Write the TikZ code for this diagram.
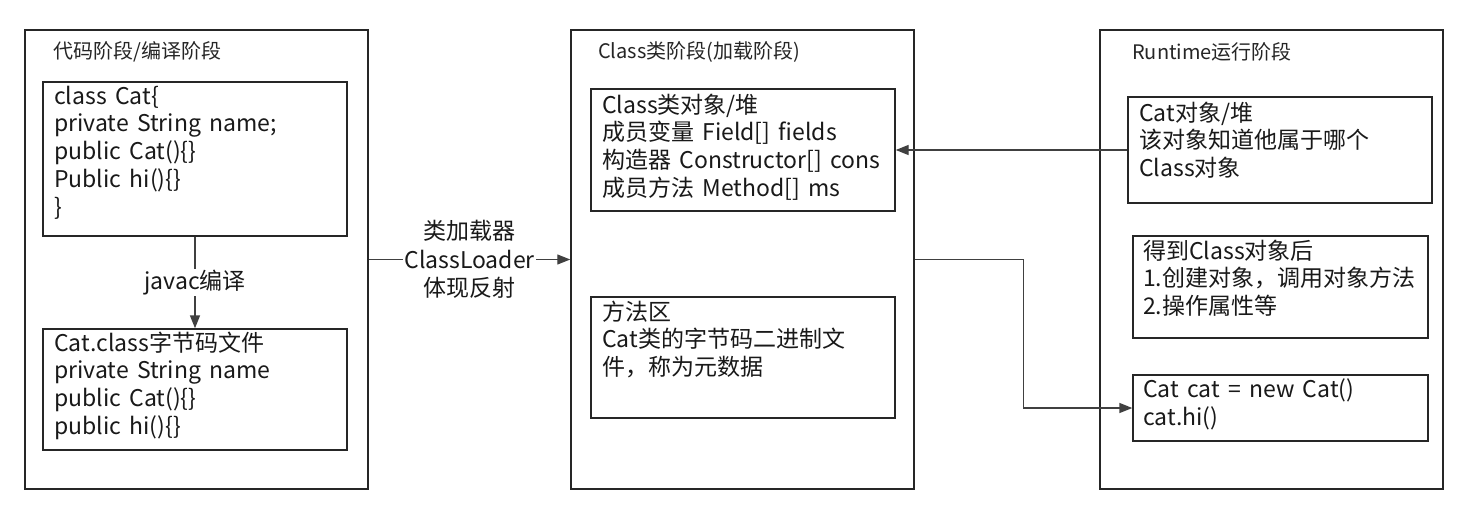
\documentclass[tikz,border=0pt]{standalone}
\usepackage{fontspec}
\setmainfont{Noto Sans CJK SC}[WordSpace=1.6]
\usetikzlibrary{arrows.meta,fit}
\begin{document}
\begin{tikzpicture}[x=1pt,y=-1pt,
  frame/.style={draw=black!85, line width=1.5pt, inner sep=0pt},
  box/.style={draw=black!85, line width=1.4pt, inner sep=0pt},
  title/.style={anchor=west, inner sep=0pt, font=\fontsize{20}{24}\selectfont, text=black!85},
  body/.style={anchor=north west, inner sep=0pt, align=left, font=\fontsize{23}{27.8}\selectfont, text=black!90},
  conn/.style={draw=black!75, line width=1.4pt, -{Triangle[length=13pt,width=10pt]}},
  lbl/.style={fill=white, inner sep=1pt, align=center, font=\fontsize{23}{28.5}\selectfont, text=black!90}
]
\useasboundingbox (0,0) rectangle (1468,514);
\fill[white] (0,0) rectangle (1468,514);

% stage frames
\node[frame, fit={(25,30) (368,489)}] (s1) {};
\node[frame, fit={(571,30) (914,489)}] (s2) {};
\node[frame, fit={(1100,30) (1443,489)}] (s3) {};

\node[title] (t1) at (53,52) {代码阶段/编译阶段};
\node[title] (t2) at (598,52) {Class类阶段(加载阶段)};
\node[title] (t3) at (1132,52) {Runtime运行阶段};

% inner boxes
\node[box, fit={(43,82) (347,236)}] (A) {};
\node[box, fit={(43,329) (347,450)}] (B) {};
\node[box, fit={(591,89) (895,211)}] (C) {};
\node[box, fit={(591,297) (895,418)}] (D) {};
\node[box, fit={(1128,97) (1432,203)}] (E) {};
\node[box, fit={(1133,236) (1428,338)}] (F) {};
\node[box, fit={(1133,375) (1428,441)}] (G) {};

% texts
\node[body] (Atxt) at (54,85.5) {class Cat\{\\private String name;\\public Cat()\{\}\\Public hi()\{\}\\\}};
\node[body] (Btxt) at (54,331.5) {Cat.class字节码文件\\private String name\\public Cat()\{\}\\public hi()\{\}};
\node[body] (Ctxt) at (602,93.5) {Class类对象/堆\\成员变量 Field[] fields\\构造器 Constructor[] cons\\成员方法 Method[] ms};
\node[body] (Dtxt) at (602,300.5) {方法区\\Cat类的字节码二进制文\\件，称为元数据};
\node[body] (Etxt) at (1139,101.5) {Cat对象/堆\\该对象知道他属于哪个\\Class对象};
\node[body] (Ftxt) at (1143,239.5) {得到Class对象后\\1.创建对象，调用对象方法\\2.操作属性等};
\node[body] (Gtxt) at (1143,378.5) {Cat cat = new Cat()\\cat.hi()};

% connectors
\draw[conn] (A.south) -- node[lbl] {javac编译} (B.north);
\draw[conn] (s1.east) -- node[lbl] {类加载器\\ClassLoader\\体现反射} (s2.west);
\draw[conn] (E.west) -- (C.east);
\draw[conn] (s2.east) -- ++(109,0) |- (G.west);
\end{tikzpicture}
\end{document}
